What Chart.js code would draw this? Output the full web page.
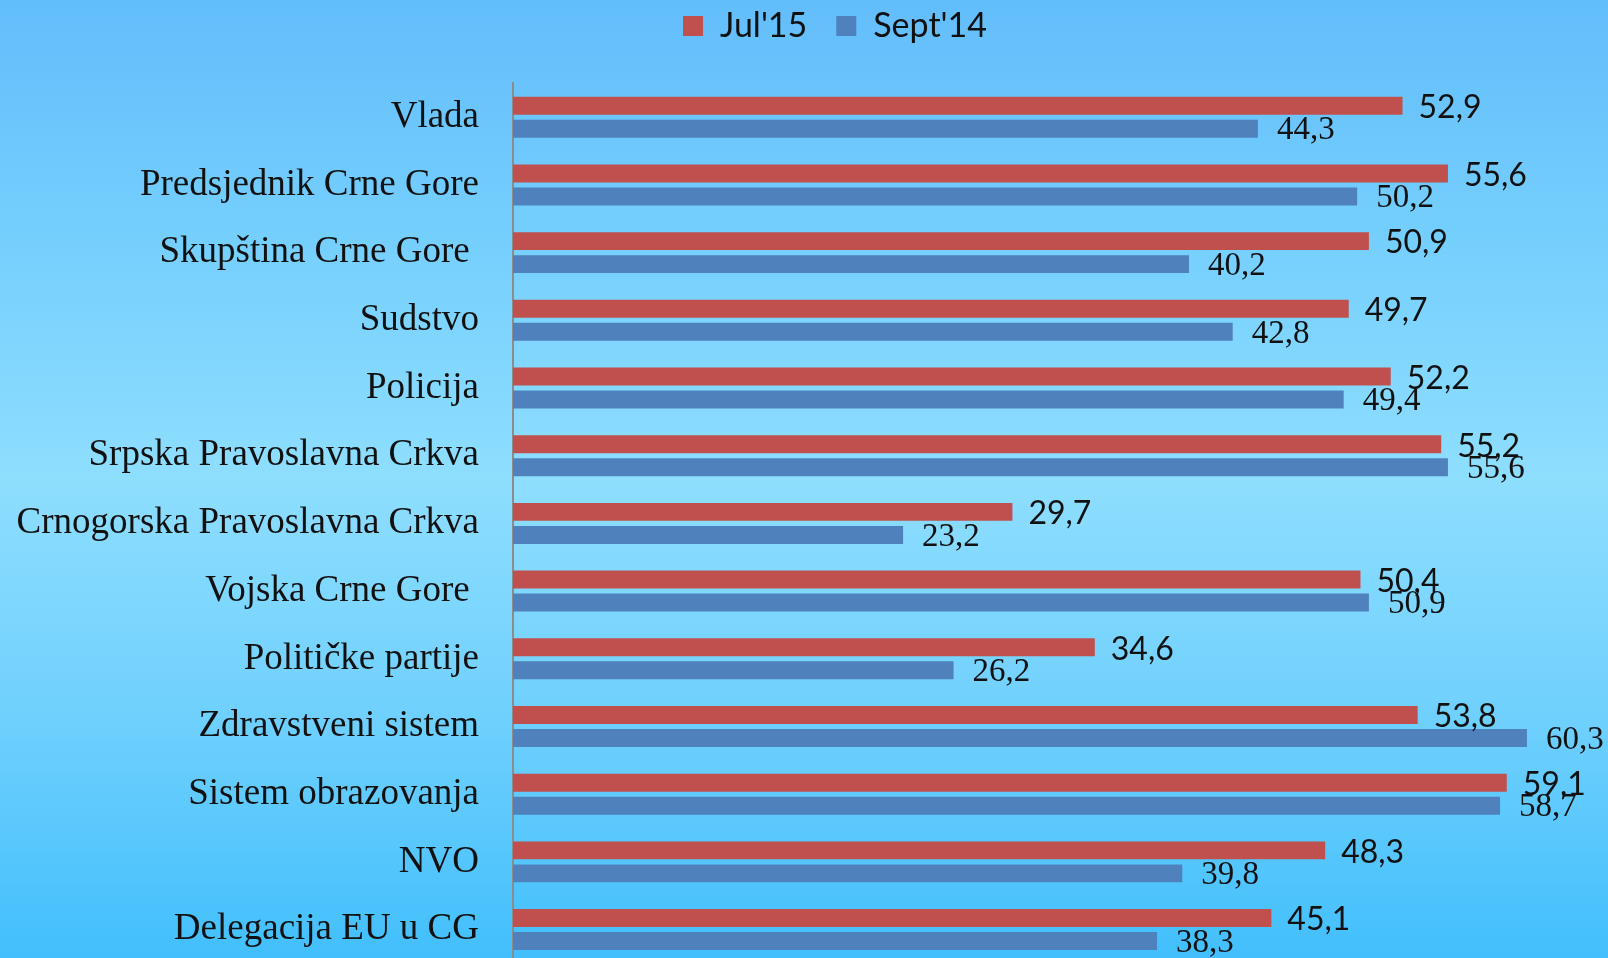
<!DOCTYPE html>
<html>
<head>
<meta charset="utf-8">
<script src="https://cdn.jsdelivr.net/npm/chart.js@4.4.1/dist/chart.umd.min.js"></script>
<style>
  html, body { margin: 0; padding: 0; overflow: hidden; }
  body {
    width: 1608px; height: 958px;
    background: linear-gradient(to bottom, #62BDFB 0%, #75CFFD 25%, #8EDEFE 50%, #6FD0FD 75%, #42BFFC 100%);
  }
  #wrap { position: absolute; left: 0; top: 0; width: 1608px; height: 966px; }
</style>
</head>
<body>
<div id="wrap"><canvas id="c" width="1608" height="966"></canvas></div>
<script>
const categories = [
  "Vlada",
  "Predsjednik Crne Gore",
  "Skupština Crne Gore ",
  "Sudstvo",
  "Policija",
  "Srpska Pravoslavna Crkva",
  "Crnogorska Pravoslavna Crkva",
  "Vojska Crne Gore ",
  "Političke partije",
  "Zdravstveni sistem",
  "Sistem obrazovanja",
  "NVO",
  "Delegacija EU u CG"
];
const seriesNames = ["Jul'15", "Sept'14"];
const jul15  = [52.9, 55.6, 50.9, 49.7, 52.2, 55.2, 29.7, 50.4, 34.6, 53.8, 59.1, 48.3, 45.1];
const sept14 = [44.3, 50.2, 40.2, 42.8, 49.4, 55.6, 23.2, 50.9, 26.2, 60.3, 58.7, 39.8, 38.3];

const RED = '#C0504D';
const BLUE = '#4F81BD';

const legendSpacer = {
  id: 'legendSpacer',
  beforeInit(chart) {
    const lg = chart.legend;
    if (!lg) return;
    const origFit = lg.fit;
    lg.fit = function () {
      origFit.call(this);
      this.height += 30.4;
    };
  },
  afterLayout(chart) {
    const lg = chart.legend;
    if (lg) { lg.left += 32; lg.right += 32; }
  }
};

const valueLabels = {
  id: 'valueLabels',
  afterDatasetsDraw(chart) {
    const ctx = chart.ctx;
    ctx.save();
    ctx.textAlign = 'left';
    ctx.textBaseline = 'middle';
    ctx.fillStyle = '#111111';
    chart.data.datasets.forEach((ds, i) => {
      const meta = chart.getDatasetMeta(i);
      if (i === 0) {
        ctx.font = '32px Lato';
      } else {
        ctx.font = '33px "Liberation Serif"';
      }
      meta.data.forEach((bar, j) => {
        const v = ds.data[j];
        const txt = v.toFixed(1).replace('.', ',');
        const gap = i === 0 ? 16 : 19;
        ctx.fillText(txt, bar.x + gap, bar.y + 2);
      });
    });
    ctx.restore();
  }
};

new Chart(document.getElementById('c'), {
  type: 'bar',
  data: {
    labels: categories,
    datasets: [
      { label: seriesNames[0], data: jul15, backgroundColor: RED, borderWidth: 0,
        categoryPercentage: 0.68, barPercentage: 0.78 },
      { label: seriesNames[1], data: sept14, backgroundColor: BLUE, borderWidth: 0,
        categoryPercentage: 0.68, barPercentage: 0.78 }
    ]
  },
  options: {
    indexAxis: 'y',
    responsive: false,
    animation: false,
    layout: { padding: { top: -20, right: 2, bottom: 2.6, left: 0 } },
    plugins: {
      legend: {
        display: true,
        position: 'top',
        labels: {
          boxWidth: 20,
          boxHeight: 20,
          padding: 29,
          color: '#111111',
          font: { family: 'Lato', size: 34 }
        }
      },
      tooltip: { enabled: false }
    },
    scales: {
      x: {
        display: false,
        min: 0,
        max: 65
      },
      y: {
        offset: true,
        afterFit(scale) {
          scale.width = 513;
          scale.paddingTop = 0;
          scale.paddingBottom = 0;
        },
        grid: { display: false, drawTicks: false },
        border: { display: true, color: '#8C8C8C', width: 2 },
        ticks: {
          autoSkip: false,
          padding: 34,
          color: '#111111',
          font: { family: '"Liberation Serif"', size: 37 }
        }
      }
    }
  },
  plugins: [legendSpacer, valueLabels]
});
</script>
</body>
</html>
